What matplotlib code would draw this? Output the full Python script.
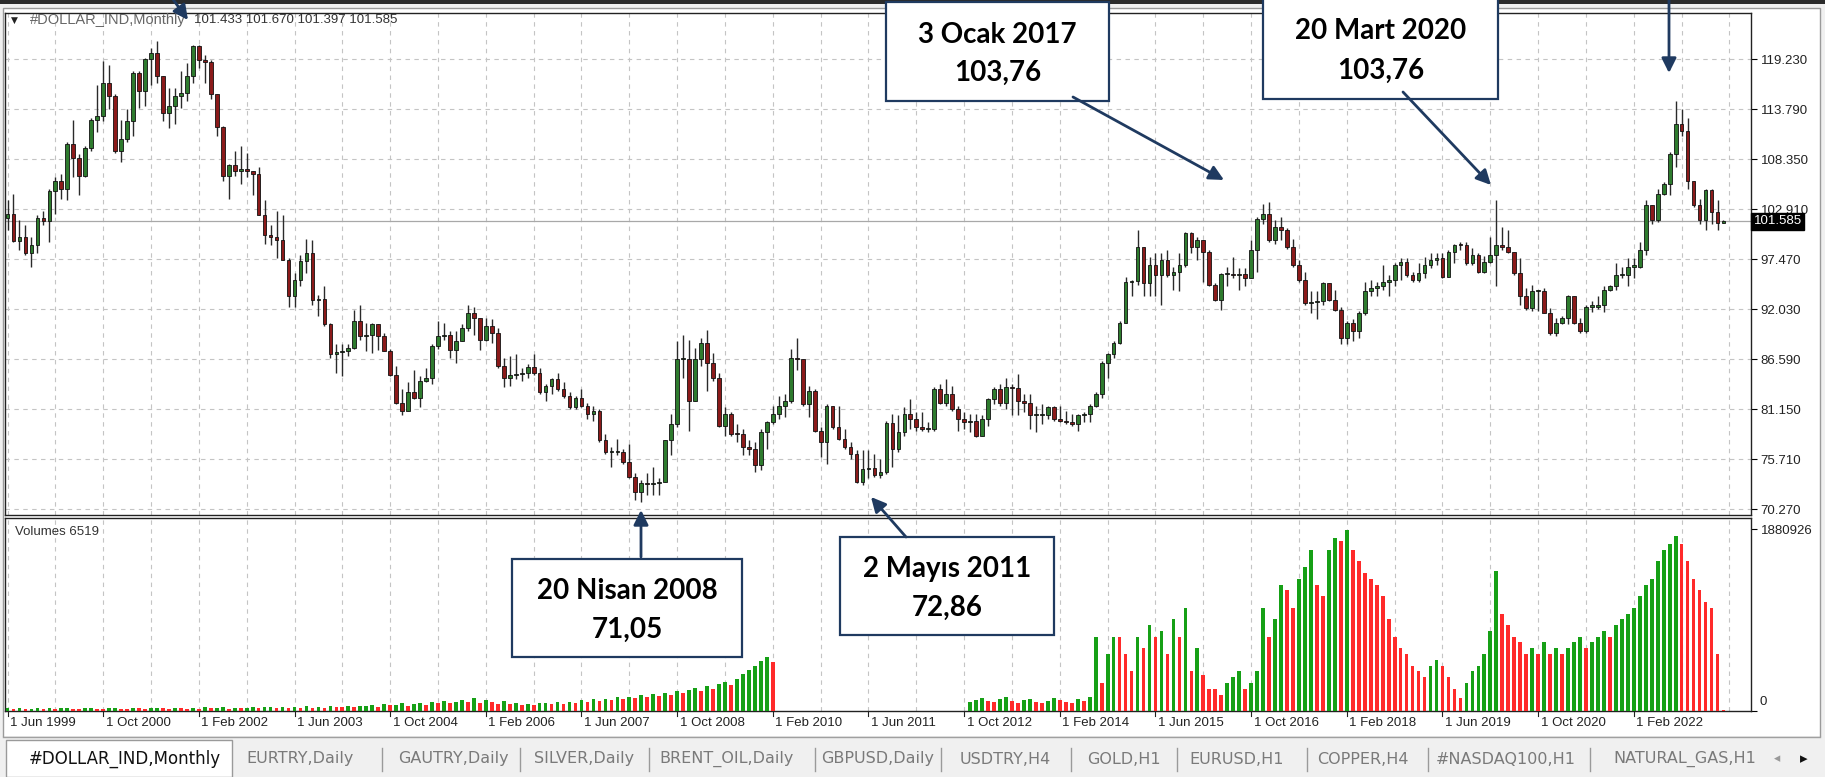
import numpy as np
import matplotlib.pyplot as plt
import matplotlib.transforms as mtransforms
from matplotlib.patches import Rectangle, FancyArrowPatch
from matplotlib.lines import Line2D

# monthly DXY candles, Jun 1999 .. May 2023
closes = [
    102.4, 99.45, 99.9, 98.1, 99.0, 101.95, 101.6, 104.9, 106.0, 105.1,
    110.0, 108.5, 106.55, 109.6, 112.65, 113.0, 116.6, 115.2, 109.25, 110.5,
    112.5, 117.7, 115.75, 119.2, 119.9, 117.35, 113.4, 114.1, 115.2, 115.55,
    117.35, 120.6, 119.15, 118.9, 115.4, 111.8, 106.55, 107.75, 107.1, 107.25,
    107.0, 106.7, 102.25, 100.05, 99.9, 99.5, 97.35, 93.4, 95.2, 97.3,
    98.1, 93.05, 93.1, 90.35, 87.1, 87.35, 87.45, 87.8, 90.7, 89.1,
    89.2, 90.35, 89.1, 87.45, 84.9, 81.85, 80.95, 82.95, 82.4, 84.2,
    84.55, 88.0, 89.1, 89.25, 87.6, 88.55, 90.0, 91.6, 91.05, 88.7,
    90.15, 89.45, 85.85, 84.55, 84.8, 84.95, 85.1, 85.75, 85.1, 82.95,
    83.65, 84.4, 83.3, 82.6, 81.35, 82.4, 81.5, 80.6, 80.95, 77.75,
    76.45, 76.45, 76.5, 75.4, 73.75, 72.15, 73.05, 73.0, 73.1, 73.25,
    77.75, 79.55, 86.55, 86.6, 82.05, 86.55, 88.35, 86.2, 84.55, 79.35,
    80.6, 78.45, 78.4, 77.0, 76.85, 75.05, 78.65, 79.7, 80.6, 81.5,
    82.05, 86.75, 86.6, 81.7, 83.15, 78.8, 77.55, 81.5, 79.15, 77.9,
    77.0, 76.3, 73.25, 74.65, 74.7, 73.95, 74.3, 79.6, 76.85, 78.65,
    80.6, 80.05, 79.15, 79.0, 79.0, 83.3, 81.85, 82.75, 81.15, 80.05,
    79.7, 79.9, 78.25, 80.05, 82.25, 83.3, 81.85, 83.5, 83.45, 82.05,
    81.85, 80.45, 80.5, 80.5, 81.35, 80.05, 79.9, 79.7, 79.55, 80.45,
    80.6, 81.5, 82.75, 86.2, 87.1, 88.35, 90.5, 95.0, 95.05, 98.8,
    94.85, 96.8, 95.75, 97.35, 95.75, 96.1, 96.8, 100.25, 98.8, 99.5,
    98.25, 94.65, 93.05, 95.85, 95.85, 95.75, 95.85, 95.4, 98.45, 101.85,
    102.4, 99.5, 100.95, 100.6, 98.8, 96.8, 95.2, 92.7, 92.75, 92.85,
    94.85, 93.05, 91.95, 88.9, 90.5, 89.6, 91.6, 93.95, 94.3, 94.5,
    95.0, 95.2, 96.8, 97.2, 95.75, 95.2, 95.9, 96.8, 97.35, 97.55,
    95.55, 98.25, 99.0, 98.95, 97.0, 97.9, 96.1, 97.2, 97.9, 98.95,
    98.8, 98.25, 95.9, 93.4, 92.15, 93.95, 93.95, 91.6, 89.45, 90.5,
    91.05, 93.4, 90.5, 89.6, 92.3, 92.3, 92.5, 94.1, 94.5, 95.75,
    95.75, 96.65, 96.65, 98.45, 103.3, 101.7, 104.55, 105.65, 108.9, 112.15,
    111.4, 106.0, 103.3, 101.7, 104.95, 102.6, 101.433, 101.585,
]
highs = [
    103.85, 104.55, 101.7, 101.15, 99.9, 102.25, 102.75, 105.1, 106.35, 106.75,
    110.15, 112.65, 108.9, 109.8, 112.85, 116.45, 119.0, 118.6, 115.4, 112.65,
    113.75, 117.9, 117.9, 119.35, 120.4, 121.15, 117.35, 116.1, 116.1, 117.9,
    118.8, 120.8, 120.8, 119.7, 119.15, 115.4, 111.95, 107.8, 109.25, 109.8,
    109.05, 107.1, 107.45, 103.85, 101.15, 102.75, 102.25, 97.55, 95.9, 97.9,
    99.7, 99.5, 93.6, 94.5, 90.5, 88.2, 88.2, 88.2, 91.95, 92.5,
    90.5, 90.5, 90.35, 89.45, 87.65, 85.85, 83.3, 84.05, 85.45, 84.75,
    85.65, 88.2, 90.7, 90.5, 89.6, 89.6, 90.35, 92.5, 92.3, 90.9,
    91.05, 90.9, 90.0, 86.75, 86.9, 87.1, 85.65, 86.0, 87.1, 85.65,
    83.85, 84.55, 85.1, 84.05, 82.95, 82.6, 83.3, 81.85, 81.5, 81.15,
    78.45, 77.0, 77.9, 76.85, 77.35, 74.15, 73.4, 74.15, 74.85, 73.6,
    77.75, 80.6, 88.55, 89.25, 88.7, 87.8, 88.9, 89.8, 87.25, 85.1,
    81.35, 80.8, 79.55, 79.0, 77.75, 77.55, 79.0, 79.9, 81.5, 82.6,
    82.75, 87.65, 88.9, 86.55, 83.65, 83.3, 79.15, 81.7, 81.5, 81.5,
    79.0, 77.55, 76.65, 76.65, 76.65, 76.3, 75.75, 79.9, 80.6, 80.45,
    81.35, 82.25, 80.8, 80.8, 79.7, 83.5, 83.85, 84.4, 83.7, 81.5,
    80.8, 80.6, 80.6, 80.45, 82.4, 83.5, 83.85, 84.55, 83.9, 84.95,
    82.8, 82.8, 81.5, 81.7, 81.5, 81.5, 81.5, 80.95, 80.6, 80.6,
    80.8, 81.7, 82.95, 86.35, 87.25, 88.55, 90.7, 95.55, 95.2, 100.6,
    98.8, 97.7, 98.1, 98.1, 98.45, 96.65, 98.1, 100.4, 100.4, 99.9,
    99.5, 98.45, 94.85, 95.9, 96.65, 97.7, 96.45, 96.45, 99.5, 102.05,
    103.5, 103.65, 101.7, 102.05, 100.8, 99.7, 97.35, 96.1, 93.95, 93.95,
    95.0, 94.85, 94.1, 92.3, 90.7, 90.9, 91.8, 95.0, 95.2, 95.0,
    96.8, 95.75, 97.0, 97.55, 97.55, 96.1, 97.0, 97.7, 98.1, 98.1,
    98.1, 98.45, 99.15, 99.35, 99.35, 98.7, 98.1, 97.8, 99.9, 103.85,
    100.95, 100.6, 98.25, 97.55, 94.3, 94.65, 94.1, 94.3, 92.15, 91.05,
    91.3, 93.6, 93.4, 91.05, 92.5, 92.85, 93.4, 94.5, 94.65, 97.0,
    96.65, 97.55, 97.55, 99.35, 103.85, 103.3, 105.1, 105.85, 109.1, 114.65,
    113.75, 112.85, 106.0, 104.05, 105.1, 105.1, 103.85, 101.67,
]
lows = [
    100.6, 99.35, 98.45, 97.9, 96.65, 98.1, 101.15, 99.35, 102.4, 104.05,
    103.85, 106.35, 104.4, 106.35, 109.25, 111.25, 112.5, 113.75, 109.05, 108.0,
    110.15, 110.9, 113.95, 114.1, 116.45, 116.65, 112.5, 111.75, 112.15, 113.95,
    114.65, 116.65, 118.25, 116.65, 114.85, 110.9, 106.0, 104.05, 106.55, 105.65,
    106.35, 104.4, 102.25, 99.15, 99.0, 97.55, 97.35, 92.3, 92.3, 94.5,
    95.9, 92.5, 91.25, 90.15, 86.75, 85.1, 84.75, 86.9, 87.65, 88.7,
    87.45, 87.3, 87.6, 87.45, 84.75, 81.7, 80.45, 80.95, 82.25, 81.35,
    84.05, 83.85, 87.65, 88.7, 86.75, 86.2, 88.55, 89.6, 89.25, 87.6,
    88.55, 88.35, 85.65, 83.5, 83.65, 84.4, 84.2, 84.55, 84.9, 82.75,
    82.05, 82.75, 83.15, 82.4, 81.15, 81.15, 81.35, 80.05, 79.9, 77.55,
    76.3, 74.85, 76.1, 75.2, 73.6, 71.25, 71.05, 71.8, 71.8, 71.8,
    73.2, 76.1, 79.15, 84.55, 78.8, 82.05, 85.85, 83.15, 84.2, 79.15,
    78.25, 78.25, 77.55, 76.1, 76.1, 74.3, 74.5, 76.85, 79.55, 80.05,
    80.25, 81.85, 85.45, 81.5, 80.25, 78.6, 75.95, 75.2, 79.0, 77.75,
    76.85, 75.75, 73.05, 72.85, 73.6, 73.75, 73.6, 74.1, 74.85, 76.45,
    78.25, 79.0, 78.8, 78.8, 78.6, 78.8, 81.7, 81.5, 80.95, 78.8,
    79.0, 78.6, 78.1, 78.25, 79.35, 81.7, 81.5, 81.15, 80.45, 80.45,
    80.8, 79.0, 78.6, 79.55, 80.05, 79.9, 79.7, 79.5, 79.35, 78.8,
    79.7, 79.7, 81.35, 82.4, 84.55, 86.75, 88.2, 90.5, 93.4, 94.65,
    93.4, 93.4, 93.4, 92.5, 95.55, 94.1, 93.95, 96.65, 98.1, 97.35,
    95.0, 94.5, 92.85, 91.95, 94.5, 95.4, 94.1, 94.5, 95.4, 96.1,
    101.3, 99.35, 99.15, 99.5, 98.6, 96.65, 95.0, 92.5, 91.6, 90.9,
    92.5, 92.85, 91.8, 88.2, 88.2, 88.55, 88.9, 91.4, 93.4, 93.4,
    94.1, 93.4, 94.5, 95.2, 95.55, 95.0, 95.0, 95.4, 96.45, 96.8,
    95.4, 95.55, 97.0, 98.45, 96.8, 96.8, 95.9, 96.0, 97.0, 94.5,
    98.45, 98.1, 95.75, 92.5, 91.95, 91.8, 91.8, 91.6, 89.25, 89.1,
    90.35, 90.35, 90.35, 89.45, 89.45, 91.75, 92.0, 91.75, 93.95, 94.1,
    95.4, 94.5, 95.4, 96.45, 97.9, 101.3, 101.5, 104.4, 104.4, 107.45,
    110.9, 105.1, 103.1, 101.3, 100.6, 101.3, 100.6, 101.397,
]
first_open = 101.9
last_open = 101.433

# tick volume, thousands
volumes_k = [
    30, 22, 28, 18, 25, 32, 20, 27, 24, 30,
    35, 22, 18, 26, 31, 24, 20, 28, 33, 25,
    22, 30, 27, 19, 26, 34, 29, 23, 31, 27,
    25, 33, 20, 38, 27, 30, 42, 24, 35, 29,
    31, 44, 26, 37, 40, 28, 46, 33, 38, 30,
    49, 35, 41, 32, 52, 44, 37, 56, 40, 47,
    50, 62, 45, 70, 58, 66, 80, 55, 72, 88,
    64, 95, 78, 100, 85, 92, 110, 96, 135, 82,
    118, 90, 76, 104, 68, 86, 60, 74, 58, 80,
    88, 70, 92, 75, 98, 84, 110, 96, 120, 104,
    128, 112, 140, 124, 150, 132, 165, 145, 175, 160,
    190, 170, 205, 185, 220, 240, 210, 260, 230, 280,
    300, 270, 330, 380, 420, 470, 520, 560, 510,
    4, 3, 5, 4, 3, 4, 5, 3, 4, 4,
    3, 5, 4, 3, 4, 4, 5, 3, 4, 3,
    4, 5, 4, 3, 4, 4, 3, 5, 4, 4,
    3, 4,
    95, 110, 130, 105, 90, 120, 140, 100, 85, 115,
    125, 95, 80, 105, 130, 110, 95, 85, 120, 100, 140,
    770, 290, 590, 770, 770, 590, 410, 770, 650, 890,
    770, 830, 590, 950, 770, 1070, 410, 650, 370, 230,
    230, 170, 290, 350, 410, 230, 290,
    410, 1070, 770, 950, 1310, 1250, 1070, 1370, 1490, 1670,
    1310, 1190, 1670, 1790, 1760, 1880, 1670, 1550, 1430, 1370,
    1310, 1190,
    950, 770, 650, 590, 470, 410, 350, 470, 530, 470,
    350, 230, 130, 290, 410, 470, 590, 830, 1450, 1010,
    890, 770, 710, 590, 650, 590, 710, 590, 650, 590,
    650, 710, 770, 650, 710, 770, 830, 770, 890, 950,
    1010, 1070, 1190, 1310, 1370, 1550, 1670, 1730, 1810, 1730,
    1550, 1370, 1250, 1130, 1070, 590, 6.519,
]

price_ticks = [70.27, 75.71, 81.15, 86.59, 92.03, 97.47, 102.91, 108.35, 113.79, 119.23]
date_labels = ['1 Jun 1999', '1 Oct 2000', '1 Feb 2002', '1 Jun 2003', '1 Oct 2004',
               '1 Feb 2006', '1 Jun 2007', '1 Oct 2008', '1 Feb 2010', '1 Jun 2011',
               '1 Oct 2012', '1 Feb 2014', '1 Jun 2015', '1 Oct 2016', '1 Feb 2018',
               '1 Jun 2019', '1 Oct 2020', '1 Feb 2022']
tab_names = ['#DOLLAR_IND,Monthly', 'EURTRY,Daily', 'GAUTRY,Daily', 'SILVER,Daily',
             'BRENT_OIL,Daily', 'GBPUSD,Daily', 'USDTRY,H4', 'GOLD,H1', 'EURUSD,H1',
             'COPPER,H4', '#NASDAQ100,H1', 'NATURAL_GAS,H1']
notes = [('20 Nisan 2008', '71,05'), ('2 Mayıs 2011', '72,86'),
         ('3 Ocak 2017', '103,76'), ('20 Mart 2020', '103,76')]

W, H = 1825, 777
NAVY = '#1f3a60'
SMALL = ['Liberation Sans', 'DejaVu Sans']


def fbox(x0, y0, x1, y1):
    # pixel box (top-left origin) -> figure fraction rect
    return [x0 / W, 1 - y1 / H, (x1 - x0) / W, (y1 - y0) / H]


def fp(x, y):
    return (x / W, 1 - y / H)


n = len(closes)
x = np.arange(n)
c = np.array(closes)
o = np.r_[first_open, c[:-1]]
o[-1] = last_open
h = np.maximum(np.array(highs), np.maximum(o, c))
l = np.minimum(np.array(lows), np.minimum(o, c))
vol = np.array(volumes_k) * 1000.0

fig = plt.figure(figsize=(W / 100, H / 100), dpi=100, facecolor='#f0f0f0')

# window frame
fig.add_artist(Rectangle(fp(3, 737), 1817 / W, 729 / H, transform=fig.transFigure,
                         facecolor='white', edgecolor='#9a9a9a', lw=1, zorder=0))
fig.add_artist(Rectangle(fp(0, 4), 1, 4 / H, transform=fig.transFigure,
                         facecolor='#2b2b2b', edgecolor='none', zorder=0))

ax = fig.add_axes(fbox(5, 13, 1751, 515))
axv = fig.add_axes(fbox(5, 518, 1751, 711))

xlim = (-0.42, 291.6)
grid_kw = dict(color='#c4c4c4', linestyle=(0, (4, 4)), linewidth=0.8)

# price panel
ax.set_xlim(*xlim)
ax.set_ylim(69.62, 124.24)
ax.axhline(101.585, color='#a8a8a8', lw=0.9, zorder=1)
ax.vlines(x, l, h, color='#2a2a2a', lw=1.0, zorder=2)
up = c >= o
ax.bar(x, np.maximum(np.abs(c - o), 0.12), bottom=np.minimum(o, c), width=0.62,
       color=np.where(up, '#2e7b2e', '#8b1a1a'), edgecolor='#111111', linewidth=0.6, zorder=3)
ax.set_xticks(np.arange(0, 292, 8))
ax.tick_params(axis='x', length=0, labelbottom=False)
ax.yaxis.tick_right()
ax.set_yticks(price_ticks)
ax.set_yticklabels(['%.3f' % p for p in price_ticks], family=SMALL)
ax.tick_params(axis='y', direction='out', length=4, width=0.8, pad=3, labelsize=9.5,
               labelcolor='#222222')
ax.grid(True, **grid_kw)
ax.set_axisbelow(True)
for s in ax.spines.values():
    s.set_color('#222222')
    s.set_linewidth(1.0)

ybl = mtransforms.blended_transform_factory(ax.transAxes, ax.transData)
ax.text(1.0015, 101.585, '101.585', transform=ybl, ha='left', va='center', fontsize=9.5,
        family=SMALL, color='white',
        bbox=dict(boxstyle='square,pad=0.2', facecolor='black', edgecolor='black'),
        zorder=6, clip_on=False)

# volume panel
vcol = ['#16a016'] + ['#16a016' if vol[i] > vol[i - 1] else '#ff2a2a' for i in range(1, n)]
axv.set_xlim(*xlim)
axv.set_ylim(0, 2.0e6)
axv.bar(x, vol, width=0.62, color=vcol, zorder=3)
axv.set_xticks(np.arange(0, 292, 8))
axv.tick_params(axis='x', length=0, labelbottom=False)
axv.yaxis.tick_right()
axv.set_yticks([0, 1880926])
axv.set_yticklabels(['', '1880926'], family=SMALL)
axv.tick_params(axis='y', direction='out', length=4, width=0.8, pad=3, labelsize=9.5,
                labelcolor='#222222')
axv.grid(True, axis='x', **grid_kw)
axv.set_axisbelow(True)
for s in axv.spines.values():
    s.set_color('#222222')
    s.set_linewidth(1.0)
fig.text(1760 / W, 1 - 702 / H, '0', fontsize=9.5, family=SMALL, color='#222222', va='center')

# date labels under the volume panel
xt = mtransforms.blended_transform_factory(axv.transData, fig.transFigure)
for k, lab in enumerate(date_labels):
    i = 16 * k
    axv.add_line(Line2D([i, i], [1 - 711 / H, 1 - 716 / H], transform=xt, color='#222222',
                        lw=0.8, clip_on=False))
    axv.text(i + 0.4, 1 - 723 / H, lab, transform=xt, ha='left', va='center', fontsize=9.5,
             family=SMALL, color='#222222', clip_on=False)

# headers
fig.text(11 / W, 1 - 20 / H, '\u25bc', fontsize=6.5, color='#222222', va='center')
fig.text(30 / W, 1 - 20 / H, '#DOLLAR_IND,Monthly', fontsize=10.5, family=SMALL,
         color='#666666', va='center')
fig.text(194 / W, 1 - 20 / H, '101.433 101.670 101.397 101.585', fontsize=9.5,
         family=SMALL, color='#333333', va='center')
fig.text(15 / W, 1 - 532 / H, 'Volumes 6519', fontsize=9.5, family=SMALL,
         color='#333333', va='center')

# tab bar
fig.add_artist(Rectangle((0, 0), 1, 40 / H, transform=fig.transFigure,
                         facecolor='#f0f0f0', edgecolor='none', zorder=1))
fig.add_artist(Line2D([3 / W, 1820 / W], [1 - 737 / H] * 2, transform=fig.transFigure,
                      color='#a0a0a0', lw=1, zorder=2))
fig.add_artist(Rectangle(fp(6, 777), 226 / W, 37 / H, transform=fig.transFigure,
                         facecolor='white', edgecolor='#9a9a9a', lw=1, zorder=2))
tab_centers = [125, 300, 453, 584, 727, 878, 1005, 1124, 1237, 1363, 1506, 1685]
sep_x = [382, 520, 649, 815, 941, 1071, 1177, 1307, 1428, 1590]
for k, (name, cx) in enumerate(zip(tab_names, tab_centers)):
    fig.text(cx / W, 1 - 759 / H, name, ha='center', va='center',
             fontsize=12 if k == 0 else 11.5, family='DejaVu Sans',
             color='#111111' if k == 0 else '#7a7a7a', zorder=3)
for sx in sep_x:
    fig.add_artist(Line2D([sx / W] * 2, [1 - 748 / H, 1 - 771 / H], transform=fig.transFigure,
                          color='#9a9a9a', lw=1, zorder=3))
fig.text(1777 / W, 1 - 759 / H, '\u25c2', ha='center', va='center', fontsize=9,
         color='#999999', zorder=3)
fig.text(1804 / W, 1 - 759 / H, '\u25b8', ha='center', va='center', fontsize=11,
         color='#111111', zorder=3)

# annotation boxes
boxes = [(512, 559, 742, 657), (840, 537, 1054, 635), (886, 2, 1109, 101), (1263, -2, 1498, 99)]
for (x0, y0, x1, y1), (t1, t2) in zip(boxes, notes):
    fig.add_artist(Rectangle(fp(x0, y1), (x1 - x0) / W, (y1 - y0) / H, transform=fig.transFigure,
                             facecolor='white', edgecolor=NAVY, lw=1.6, zorder=5))
    cx = (x0 + x1) / 2
    hgt = y1 - y0
    fig.text(cx / W, 1 - (y0 + 0.33 * hgt) / H, t1, ha='center', va='center', fontsize=20,
             weight='bold', family=['Lato', 'DejaVu Sans'], color='black', zorder=6)
    fig.text(cx / W, 1 - (y0 + 0.72 * hgt) / H, t2, ha='center', va='center', fontsize=20,
             weight='bold', family=['Lato', 'DejaVu Sans'], color='black', zorder=6)

arrows = [((641, 557), (641, 510)), ((906, 537), (871, 497)), ((1073, 97), (1224, 180)),
          ((1403, 92), (1491, 185)), ((1669, 0), (1669, 73)), ((172, -2), (188, 20))]
for (xa, ya), (xb, yb) in arrows:
    fig.add_artist(FancyArrowPatch(fp(xa, ya), fp(xb, yb), transform=fig.transFigure,
                                   arrowstyle='-|>', mutation_scale=22, color=NAVY, lw=2,
                                   shrinkA=0, shrinkB=0, zorder=7))

fig.savefig('out.png', dpi=100, facecolor=fig.get_facecolor())
